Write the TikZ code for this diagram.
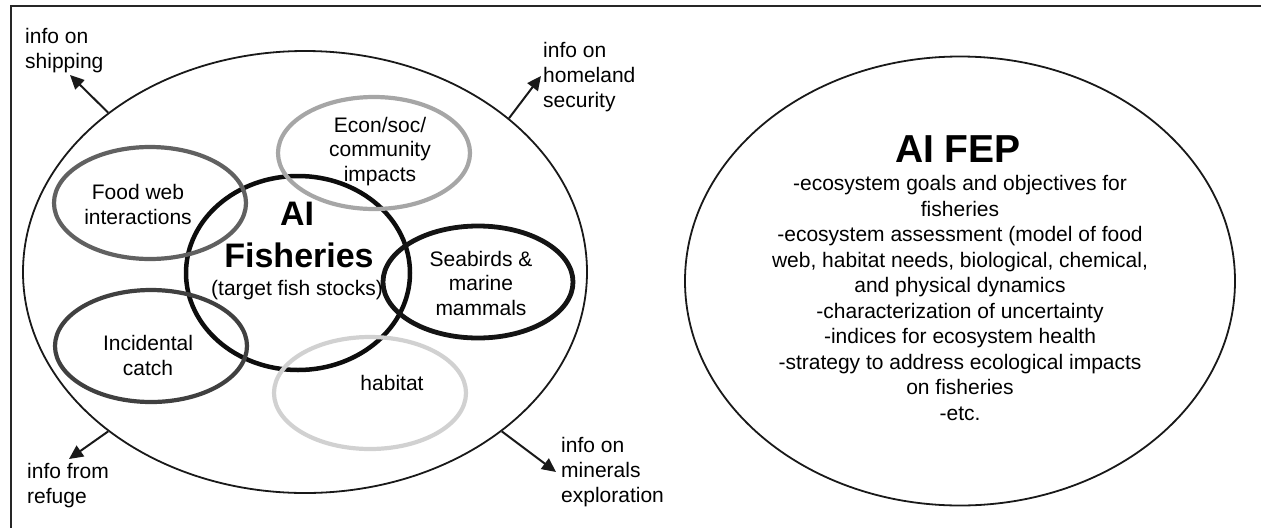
\documentclass[tikz,border=0pt]{standalone}
\usepackage{fontspec}
\setmainfont{Liberation Sans}
\usetikzlibrary{shapes.geometric,arrows.meta}
\begin{document}
\begin{tikzpicture}[x=1pt,y=-1pt,
  ring/.style={shape=ellipse, inner sep=0pt, draw},
  outline/.style={ring, line width=1.8pt, draw=black!90},
  topic/.style={ring, line width=4.2pt, minimum width=192pt, minimum height=112pt},
  % multi-line texts are placed by the baseline of their last line
  txt/.style={inner sep=0pt, align=center, anchor=base, font=\fontsize{21}{24.5}\selectfont},
  ltxt/.style={inner sep=0pt, align=left, anchor=base west, font=\fontsize{21}{25}\selectfont},
  head/.style={inner sep=0pt, anchor=base, font=\bfseries\fontsize{34}{40}\selectfont},
  infoarrow/.style={line width=2pt, black!90, -{Triangle[length=14pt,width=13pt]}}
]
\useasboundingbox (0,0) rectangle (1261,528);

% page frame
\draw[line width=1.8pt, black!85] (1261,6) -- (11,6) -- (11,528);

% fishery region and the central fishery
\node[outline, minimum width=564pt, minimum height=442pt] (region) at (305,272) {};
\node[ring, line width=4.5pt, draw=black!95, minimum width=224pt, minimum height=194pt] (fish) at (298,273) {};

% surrounding topics
\node[topic, draw=black!62] (foodweb) at (150,203) {};
\node[topic, draw=black!75] (bycatch) at (151,346) {};
\node[topic, draw=black!35] (econ) at (374,153) {};
\node[topic, draw=black!18] (habitat) at (370,393) {};
\node[topic, draw=black!92, line width=4.8pt, minimum width=190pt] (seabirds) at (478,282) {};

% topic labels
\node[txt] (foodwebtxt) at (138,224) {Food web\\interactions};
\node[txt] (bycatchtxt) at (148,375) {Incidental\\catch};
\node[txt] (econtxt) at (380,181) {Econ/soc/\\community\\impacts};
\node[txt] (habitattxt) at (392,390) {habitat};
\node[txt] (seabirdstxt) at (481,315) {Seabirds \&\\marine\\mammals};

\node[head] (ai) at (297,225) {AI};
\node[head] (fisheries) at (299,267) {Fisheries};
\node[txt] (target) at (297,295) {(target fish stocks)};

% outgoing information
\coordinate (shipTip) at (70,75);
\coordinate (homeTip) at (541,76);
\coordinate (refugeTip) at (69,459);
\coordinate (mineTip) at (556,472);
\draw[infoarrow] (region.141.8) -- (shipTip);
\draw[infoarrow] (region.37.6) -- (homeTip);
\draw[infoarrow] (region.219) -- (refugeTip);
\draw[infoarrow] (region.321.5) -- (mineTip);

\node[ltxt] (shiptxt) at (25,68) {info on\\shipping};
\node[ltxt] (hometxt) at (543,107) {info on\\homeland\\security};
\node[ltxt] (refugetxt) at (27,503) {info from\\refuge};
\node[ltxt] (minetxt) at (561,502) {info on\\minerals\\exploration};

% fishery ecosystem plan
\node[outline, minimum width=550pt, minimum height=449pt] (fep) at (960,281) {};
\node[head, font=\bfseries\fontsize{39}{44}\selectfont] (feptitle) at (958,162) {AI FEP};
\node[txt, font=\fontsize{21}{25.5}\selectfont] (fepbody) at (960,420) {-ecosystem goals and objectives for\\fisheries\\-ecosystem assessment (model of food\\web, habitat needs, biological, chemical,\\and physical dynamics\\-characterization of uncertainty\\-indices for ecosystem health\\-strategy to address ecological impacts\\on fisheries\\-etc.};
\end{tikzpicture}
\end{document}
